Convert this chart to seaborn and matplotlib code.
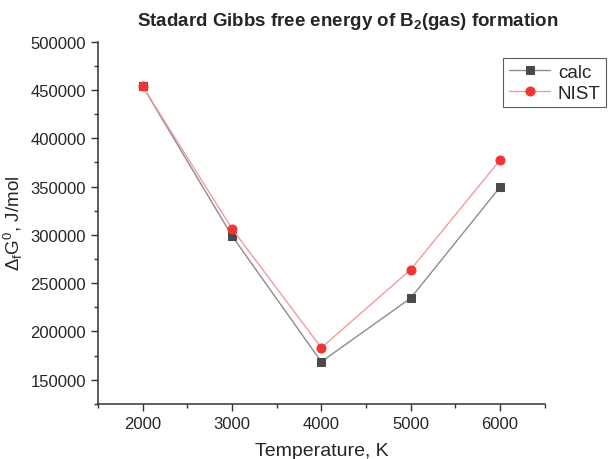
import pandas as pd
import matplotlib
matplotlib.use("Agg")
import matplotlib.pyplot as plt
import seaborn as sns
from matplotlib.ticker import MultipleLocator

# Data
temperature = [2000, 3000, 4000, 5000, 6000]
calc = [454000, 299000, 168500, 234500, 349500]
nist = [454000, 306500, 183000, 264000, 377500]

df = pd.concat([
    pd.DataFrame({"T": temperature, "G": calc, "serie": "calc"}),
    pd.DataFrame({"T": temperature, "G": nist, "serie": "NIST"}),
])

sns.set_style("ticks")
plt.rcParams["font.family"] = ["Liberation Sans", "DejaVu Sans"]
plt.rcParams["mathtext.fontset"] = "custom"
plt.rcParams["mathtext.rm"] = "Liberation Sans"
plt.rcParams["mathtext.it"] = "Liberation Sans"
plt.rcParams["mathtext.default"] = "regular"

fig = plt.figure(figsize=(6.08, 4.6), dpi=100)
ax = fig.add_axes([0.161, 0.12, 0.735, 0.787])

sns.lineplot(data=df[df.serie == "calc"], x="T", y="G", ax=ax, color="#8c8c8c",
             lw=1.0, marker="s", markersize=6, markerfacecolor="#4a4a4a",
             markeredgecolor="#4a4a4a", label="calc")
sns.lineplot(data=df[df.serie == "NIST"], x="T", y="G", ax=ax, color="#f59a9a",
             lw=1.0, marker="o", markersize=6.5, markerfacecolor="#f03535",
             markeredgecolor="#f03535", label="NIST")

ax.set_xlim(1500, 6500)
ax.set_ylim(125000, 500000)
ax.xaxis.set_major_locator(MultipleLocator(1000))
ax.xaxis.set_minor_locator(MultipleLocator(500))
ax.yaxis.set_major_locator(MultipleLocator(50000))
ax.yaxis.set_minor_locator(MultipleLocator(25000))
ax.tick_params(which="major", length=5, width=1, labelsize=12, color="#333333")
ax.tick_params(which="minor", length=3, width=1, color="#333333")
for s in ["left", "bottom"]:
    ax.spines[s].set_color("#333333")
    ax.spines[s].set_linewidth(1.1)
sns.despine(ax=ax)

ax.set_title("Stadard Gibbs free energy of B$_2$(gas) formation",
             fontsize=13.5, fontweight="bold", pad=12, x=0.56)
ax.set_xlabel("Temperature, K", fontsize=14, labelpad=8)
ax.set_ylabel("$\\Delta_f$G$^0$, J/mol", fontsize=13.5, labelpad=4)

leg = ax.legend(loc="upper right", bbox_to_anchor=(0.997, 0.872),
                bbox_transform=fig.transFigure, fontsize=13.5, frameon=True,
                fancybox=False, handlelength=2.2, handletextpad=0.4,
                borderpad=0.3, labelspacing=0.2, borderaxespad=0)
leg.get_frame().set_edgecolor("#333333")
leg.get_frame().set_linewidth(0.8)

fig.savefig("out.png", dpi=100)
